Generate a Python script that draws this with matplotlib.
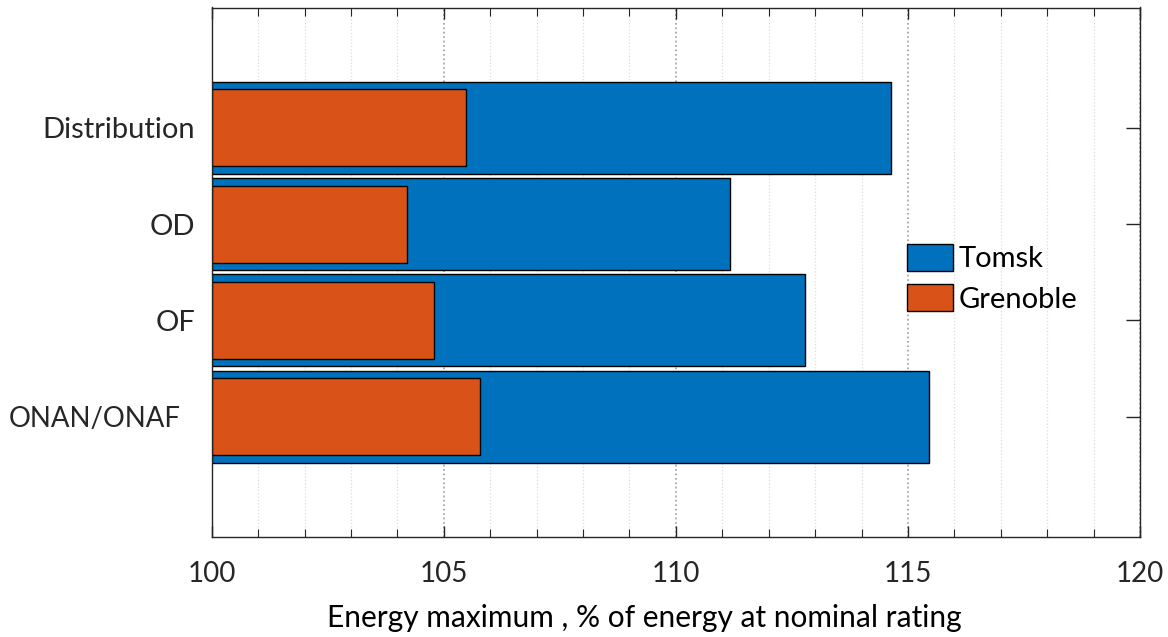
import numpy as np
import matplotlib
matplotlib.use("Agg")
import matplotlib.pyplot as plt
from matplotlib.ticker import MultipleLocator

plt.rcParams['font.family'] = ['Lato', 'DejaVu Sans']

# data
categories = ['ONAN/ONAF', 'OF', 'OD', 'Distribution']
tomsk = [115.46, 112.78, 111.17, 114.63]
grenoble = [105.77, 104.79, 104.2, 105.48]
series_names = ['Tomsk', 'Grenoble']

base = 100
ypos = np.arange(1, len(categories) + 1)
dark = '#262626'

fig = plt.figure(figsize=(11.68, 6.37), dpi=100)
ax = fig.add_axes([211.7 / 1168, 1 - 537 / 637, (1140 - 211.7) / 1168, (537 - 7.5) / 637])

# grid first so the bars cover it
ax.set_axisbelow(True)
ax.xaxis.set_major_locator(MultipleLocator(5))
ax.xaxis.set_minor_locator(MultipleLocator(1))
ax.grid(which='major', axis='x', linestyle=':', color='#a0a0a0', linewidth=1.2)
ax.grid(which='minor', axis='x', linestyle=':', color='#dcdcdc', linewidth=0.9)

ax.barh(ypos, np.array(tomsk) - base, left=base, height=0.955,
        color='#0072BD', edgecolor='black', linewidth=1, label=series_names[0])
ax.barh(ypos, np.array(grenoble) - base, left=base, height=0.8,
        color='#D95319', edgecolor='black', linewidth=1, label=series_names[1])

ax.set_xlim(100, 120)
ax.set_ylim(-0.25, 5.25)
ax.set_yticks(ypos)
ax.set_yticklabels(categories)

ax.tick_params(axis='both', which='both', direction='in', colors=dark,
               top=True, right=True)
ax.tick_params(axis='x', which='major', length=8, width=1, pad=17, labelsize=20)
ax.tick_params(axis='x', which='minor', length=6, width=0.8)
ax.tick_params(axis='y', which='major', length=10, width=1, pad=12, labelsize=21)
for sp in ax.spines.values():
    sp.set_color(dark)
    sp.set_linewidth(1)

# the long label sits a bit further from the axis in the original
onan = ax.get_yticklabels()[0]
onan.set_x(-0.015)
onan.set_fontsize(19.8)

ax.set_xlabel('Energy maximum , % of energy at nominal rating', fontsize=21.5,
              color='black')
ax.xaxis.set_label_coords(0.466, -0.127)

leg = ax.legend(loc='upper left', bbox_to_anchor=(0.736, 0.576), frameon=False,
                fontsize=21, handlelength=1.6, handleheight=1.05,
                handletextpad=0.2, labelspacing=0.42, borderaxespad=0)

fig.savefig('out.png', dpi=100)
